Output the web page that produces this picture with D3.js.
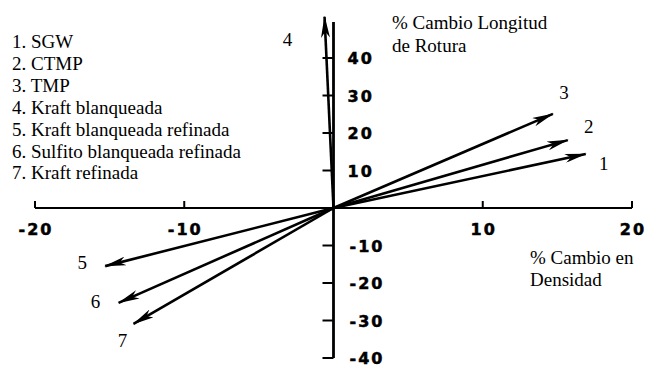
<!DOCTYPE html>
<html>
<head>
<meta charset="utf-8">
<script src="https://cdn.jsdelivr.net/npm/d3@7"></script>
<style>
  html, body { margin: 0; padding: 0; background: #fff; }
  svg { display: block; }
  .tick-label { font-family: "DejaVu Sans", sans-serif; font-weight: bold; font-size: 16px; letter-spacing: 2px; stroke: #000; stroke-width: 0.5px; }
  .serif { font-family: "Liberation Serif", "Times New Roman", serif; font-size: 19px; }
</style>
</head>
<body>
<svg id="chart" width="645" height="365"></svg>
<script>
// Pulp types and their vector of change (density %, breaking length %)
const seriesIds = ["1", "2", "3", "4", "5", "6", "7"];
const seriesNames = ["SGW", "CTMP", "TMP", "Kraft blanqueada", "Kraft blanqueada refinada",
                     "Sulfito blanqueada refinada", "Kraft refinada"];
const densityChange = [16.9, 15.7, 14.7, -0.6, -15.3, -14.4, -13.4];
const strengthChange = [14.4, 18.1, 25.1, 51, -15.5, -25.3, -30.9];

const xTicks = [-20, -10, 10, 20];
const yTicks = [40, 30, 20, 10, -10, -20, -30, -40];

const svg = d3.select("#chart");
const x = d3.scaleLinear().domain([-20, 20]).range([35, 632]);
const y = d3.scaleLinear().domain([-40, 40]).range([358, 58]);

const ink = "#000";

// Arrowhead marker
svg.append("defs").append("marker")
  .attr("id", "head")
  .attr("viewBox", "0 0 22 9")
  .attr("refX", 21).attr("refY", 4.5)
  .attr("markerWidth", 22).attr("markerHeight", 9)
  .attr("markerUnits", "userSpaceOnUse")
  .attr("orient", "auto")
  .append("path")
  .attr("d", "M0,0 L22,4.5 L0,9 L6,4.5 Z")
  .attr("fill", ink);

// Horizontal axis (density), ticks pointing up
const xAxis = svg.append("g");
xAxis.append("line")
  .attr("x1", x(-20)).attr("x2", x(20))
  .attr("y1", y(0)).attr("y2", y(0))
  .attr("stroke", ink).attr("stroke-width", 2);
xAxis.selectAll("line.tk").data(xTicks).join("line")
  .attr("class", "tk")
  .attr("x1", d => x(d)).attr("x2", d => x(d))
  .attr("y1", y(0)).attr("y2", y(0) - 7)
  .attr("stroke", ink).attr("stroke-width", 2);
xAxis.selectAll("text").data(xTicks).join("text")
  .attr("class", "tick-label")
  .attr("x", d => x(d) + 1).attr("y", y(0) + 27)
  .attr("text-anchor", "middle")
  .text(d => d);

// Vertical axis (breaking length), ticks pointing left
const yAxis = svg.append("g");
yAxis.append("line")
  .attr("x1", x(0)).attr("x2", x(0))
  .attr("y1", 22).attr("y2", y(-40))
  .attr("stroke", ink).attr("stroke-width", 2.8);
yAxis.selectAll("line.tk").data(yTicks).join("line")
  .attr("class", "tk")
  .attr("x1", x(0) - 11).attr("x2", x(0))
  .attr("y1", d => y(d)).attr("y2", d => y(d))
  .attr("stroke", ink).attr("stroke-width", 2);
yAxis.selectAll("text").data(yTicks).join("text")
  .attr("class", "tick-label")
  .attr("x", d => x(0) + (d < 0 ? 16 : 14)).attr("y", d => y(d) + 6)
  .attr("text-anchor", "start")
  .text(d => d);

// Change vectors from the origin
const vectors = seriesIds.map((id, i) => ({ id, dx: densityChange[i], dy: strengthChange[i] }));
svg.append("g").selectAll("line").data(vectors).join("line")
  .attr("x1", x(0)).attr("y1", y(0))
  .attr("x2", d => x(d.dx)).attr("y2", d => y(d.dy))
  .attr("stroke", ink).attr("stroke-width", 2.6)
  .attr("marker-end", "url(#head)");

// Vector numbers placed beside each arrow tip
const labelOffset = [[18, 16], [21, -7], [11, -15], [-37, 29], [-23, 3], [-23, 5], [-11, 23]];
svg.append("g").selectAll("text").data(vectors).join("text")
  .attr("class", "serif")
  .attr("x", (d, i) => x(d.dx) + labelOffset[i][0])
  .attr("y", (d, i) => y(d.dy) + labelOffset[i][1])
  .attr("text-anchor", "middle")
  .text(d => d.id);

// Legend listing the pulp types
svg.append("g").selectAll("text").data(seriesIds).join("text")
  .attr("class", "serif")
  .attr("x", 12)
  .attr("y", (d, i) => 48 + i * 21.9)
  .text((d, i) => d + ". " + seriesNames[i]);

// Axis titles
const yTitle = svg.append("text").attr("class", "serif").attr("x", 392).attr("y", 29);
yTitle.append("tspan").attr("x", 392).text("% Cambio Longitud");
yTitle.append("tspan").attr("x", 392).attr("dy", 23).text("de Rotura");

const xTitle = svg.append("text").attr("class", "serif").attr("x", 530).attr("y", 264);
xTitle.append("tspan").attr("x", 530).text("% Cambio en");
xTitle.append("tspan").attr("x", 530).attr("dy", 22).text("Densidad");
</script>
</body>
</html>
